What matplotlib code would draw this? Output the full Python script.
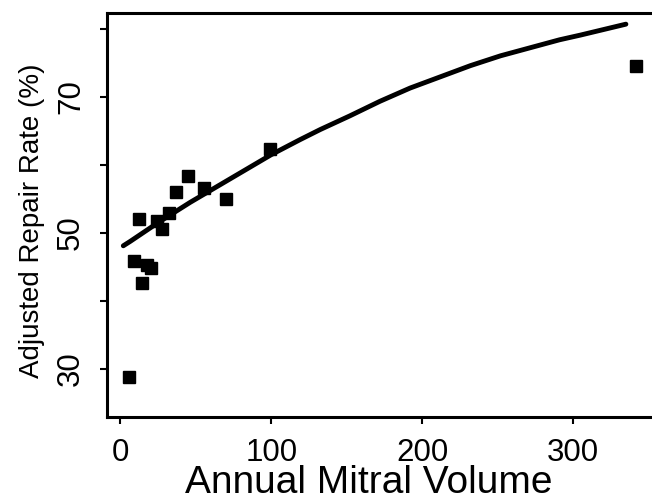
"""
Adjusted repair rate vs annual mitral volume (scatter + fitted curve).
"""

import matplotlib
matplotlib.use("Agg")
import matplotlib.pyplot as plt
from matplotlib.ticker import FixedLocator

# hospital points
volume = [5.6, 9.3, 14.4, 17.7, 20.6, 12.4, 24.4, 27.9, 32.3, 37.2, 44.6, 55.2, 70.3, 99.4, 341.6]
repair_rate = [28.8, 45.9, 42.6, 45.3, 44.8, 52.0, 51.7, 50.5, 52.9, 56.0, 58.3, 56.6, 55.0, 62.3, 74.5]

# fitted curve, read at a few points along the line
fit_volume = [2, 6.6, 25, 46.4, 100, 119, 132.5, 152, 172, 192, 232, 252, 291, 305, 335]
fit_rate = [48.1, 48.75, 51.5, 54.5, 61.5, 63.7, 65.2, 67.2, 69.35, 71.3, 74.6, 76.05, 78.4, 79.1, 80.7]

x_ticks = [0, 100, 200, 300]
y_ticks = [30, 50, 70]
y_minor = [40, 60, 80]

plt.rcParams['font.family'] = ['Liberation Sans', 'DejaVu Sans']

fig = plt.figure(figsize=(6.52, 4.96), dpi=100)
ax = fig.add_axes([0.1641, 0.1599, 1.0 - 0.1641, 0.9732 - 0.1599])

ax.plot(fit_volume, fit_rate, color='black', linewidth=3.5, solid_capstyle='round')
ax.plot(volume, repair_rate, 's', color='black', markersize=8)

ax.set_xlim(-8.8, 352.3)
ax.set_ylim(22.96, 82.3)

for side in ['left', 'top', 'bottom']:
    ax.spines[side].set_linewidth(2.2)
ax.spines['right'].set_visible(False)

ax.xaxis.set_major_locator(FixedLocator(x_ticks))
ax.yaxis.set_major_locator(FixedLocator(y_ticks))
ax.yaxis.set_minor_locator(FixedLocator(y_minor))
ax.tick_params(axis='both', which='both', direction='out', length=5, width=1.5)
ax.tick_params(axis='x', labelsize=22.5, pad=10)
ax.tick_params(axis='y', labelsize=22.5, pad=10)
for lbl in ax.get_yticklabels():
    lbl.set_rotation(90)
    lbl.set_va('center')

ax.set_xlabel('Annual Mitral Volume', fontsize=28)
ax.xaxis.set_label_coords(0.48, -0.12)
ax.set_ylabel('Adjusted Repair Rate (%)', fontsize=20)
ax.yaxis.set_label_coords(-0.113, 0.485)

fig.savefig('out.png', dpi=100)
plt.close(fig)
